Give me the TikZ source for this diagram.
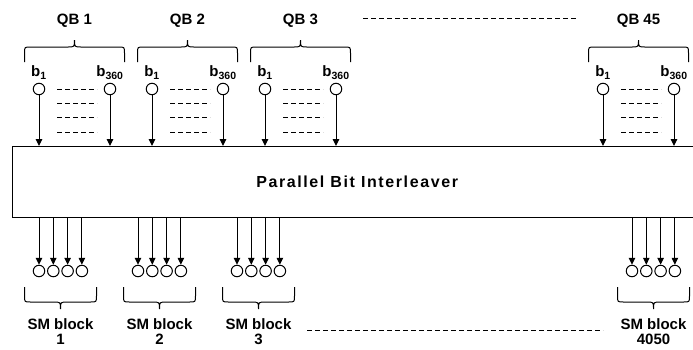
\documentclass[tikz,border=0pt]{standalone}
\usepackage{fontspec}
\setmainfont{Liberation Sans}
\newfontfamily\titlefont[LetterSpace=10]{Liberation Sans}
\usetikzlibrary{positioning}
\usetikzlibrary{arrows.meta}

\tikzset{
    pics/qbrace/.style = {code = {
        \draw (-#1,0) -- (-#1,9) .. controls (-#1,15) .. (-#1+6,15) -- (-7,15)
            .. controls (0,15) .. (0,22) .. controls (0,15) .. (7,15)
            -- (#1-6,15) .. controls (#1,15) .. (#1,9) -- (#1,0);
    }}
}

\begin{document}
\begin{tikzpicture}[
    x = 1pt, y = 1pt, line width = 1pt,
    every node/.style = {font = \bfseries\fontsize{15}{16}\selectfont},
    bit/.style = {draw, circle, minimum size = 11.5pt, inner sep = 0pt},
    bitlbl/.style = {inner sep = 1pt},
    arr/.style = {-{Triangle[length = 7pt, width = 6.5pt]}},
    dashline/.style = {dash pattern = on 5pt off 3pt}
    ]
    \useasboundingbox (0,0) rectangle (693,-349);

    \node[draw, line width = 1.3pt, anchor = north west,
          minimum width = 689pt, minimum height = 71pt,
          font = \titlefont\bfseries\fontsize{16}{18}\selectfont] (pbi) at (12,-146)
        {Parallel Bit Interleaver};

    % input bit groups
    \foreach \x/\q in {39/1, 152/2, 265/3, 603/45} {
        \node[bit] (q\q a) at (\x,-89) {};
        \node[bit] (q\q b) at (\x+71,-89) {};
        \node[bitlbl, above = 2pt of q\q a] {b\textsubscript{1}};
        \node[bitlbl, above = 2pt of q\q b] {b\textsubscript{360}};
        \node (qb\q) at (\x+35.5,-21) {QB \q};
        \pic at (\x+35.5,-62) {qbrace = 50};
        \foreach \y in {89, 103, 117, 132}
            \draw[dashline] (\x+18,-\y) -- (\x+58,-\y);
        \draw[arr] (q\q a) -- (q\q a |- pbi.north);
        \draw[arr] (q\q b) -- (q\q b |- pbi.north);
    }
    \draw[dashline] (363,-18) -- (577,-18);

    % output symbol blocks
    \foreach \x/\s in {39/1, 138/2, 237/3, 632/4050} {
        \foreach \i in {0,...,3} {
            \node[bit] (s\s-\i) at (\x+14.3*\i,-271) {};
            \draw[arr] (s\s-\i |- pbi.south) -- (s\s-\i);
        }
        \pic[yscale = -1] at (\x+21.5,-287) {qbrace = 36};
        \node[align = center, anchor = north, inner sep = 0pt,
              font = \bfseries\fontsize{15}{14.5}\selectfont] (sm\s) at (\x+21.5,-318.5)
            {SM block\\\s};
    }
    \draw[dashline] (307,-330) -- (603,-330);
\end{tikzpicture}
\end{document}
